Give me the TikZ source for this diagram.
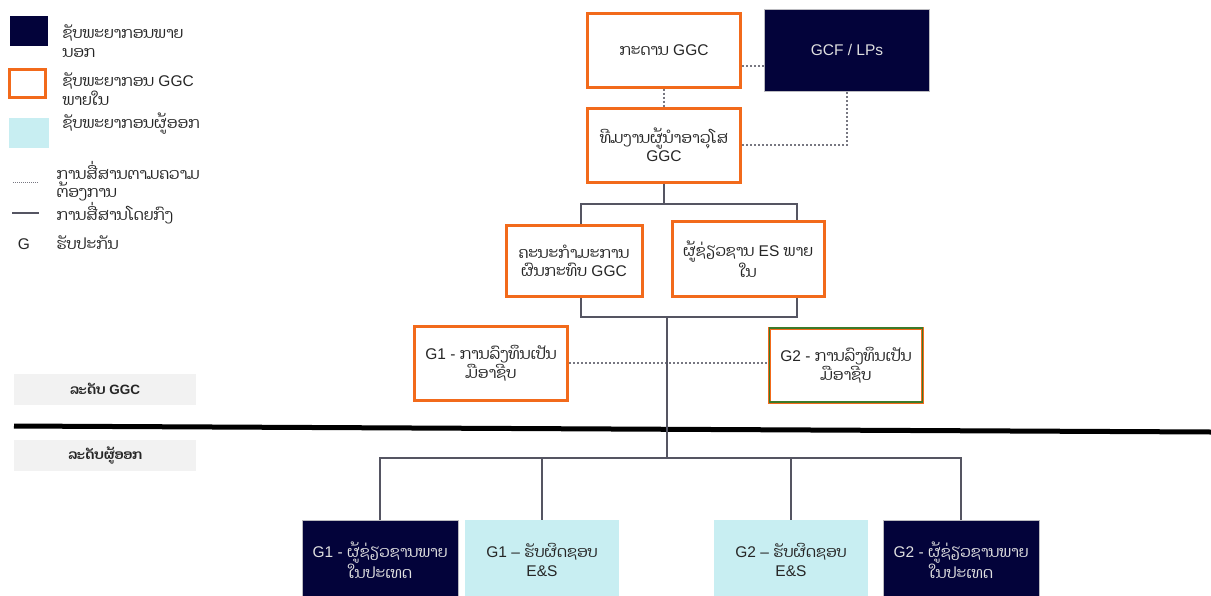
\documentclass[tikz,border=0pt]{standalone}
\usepackage{fontspec}
\setmainfont{Liberation Sans}
\newfontfamily\laofont[Script=Lao]{Dhyana}
\newcommand{\lo}[1]{{\laofont #1}}
\usetikzlibrary{positioning}
\definecolor{ggcorange}{HTML}{F26A1B}
\definecolor{extnavy}{HTML}{03033A}
\definecolor{issuercyan}{HTML}{C8EEF2}
\definecolor{linegray}{HTML}{555562}
\definecolor{levelgray}{HTML}{F2F2F2}
\definecolor{fundgreen}{HTML}{3C7A2A}
\tikzset{every node/.style={font=\fontsize{15.5}{18.5}\selectfont, align=center, text=black!85},
ggc/.style={draw=ggcorange, line width=3pt, fill=white, minimum width=153pt, minimum height=74pt, inner sep=0pt},
ext/.style={fill=extnavy, draw=linegray!40, line width=.6pt, text=white!88!black, minimum width=156pt, minimum height=80pt, inner sep=0pt},
iss/.style={fill=issuercyan, minimum width=154pt, minimum height=80pt, inner sep=0pt},
level/.style={fill=levelgray, minimum width=182pt, minimum height=31pt, font=\fontsize{13.5}{15}\selectfont\bfseries},
link/.style={draw=linegray, line width=2.2pt},
loose/.style={draw=linegray!80, line width=2pt, dash pattern=on 2pt off 2pt},
legtext/.style={anchor=west, align=left}
}

\begin{document}
\begin{tikzpicture}[x=1pt, y=-1pt, node distance=100pt, on grid]
    \useasboundingbox (0,0) rectangle (1211,595);
    \clip (0,0) rectangle (1211,595);

    % legend
    \node[fill=extnavy, minimum width=38pt, minimum height=30pt, inner sep=0pt] (keyext) at (29,31) {};
    \node[legtext] (keyexttxt) at (59,41) {\lo{ຊັບພະຍາກອນພາຍ}\\\lo{ນອກ}};
    \node[draw=ggcorange, line width=3pt, minimum width=36pt, minimum height=28pt, inner sep=0pt] (keyggc) at (27,83) {};
    \node[legtext] (keyggctxt) at (59,89) {\lo{ຊັບພະຍາກອນ} GGC\\\lo{ພາຍໃນ}};
    \node[fill=issuercyan, minimum width=40pt, minimum height=30pt, inner sep=0pt] (keyiss) at (29,133) {};
    \node[legtext] (keyisstxt) at (59,124) {\lo{ຊັບພະຍາກອນຜູ້ອອກ}};
    \coordinate (keyloosea) at (13,182);
    \coordinate (keylooseb) at (38,182);
    \draw[loose, line width=.8pt, dash pattern=on 1pt off 1pt] (keyloosea) -- (keylooseb);
    \node[legtext] (keyloosetxt) at (53,181) {\lo{ການສື່ສານຕາມຄວາມ}\\\lo{ຕ້ອງການ}};
    \coordinate (keylinka) at (12,213);
    \coordinate (keylinkb) at (39,213);
    \draw[link] (keylinka) -- (keylinkb);
    \node[legtext] (keylinktxt) at (53,213) {\lo{ການສື່ສານໂດຍກົງ}};
    \node (keyg) at (24,244) {G};
    \node[legtext] (keygtxt) at (53,243) {\lo{ຮັບປະກັນ}};

    % GGC level
    \node[ggc]                                            (board)  at (664,50)  {\lo{ກະດານ} GGC};
    \node[ext, minimum width=165pt, minimum height=82pt]  (gcf)    [right=183pt of board] {GCF / LPs};
    \node[ggc]                                            (slt)    [below=95pt of board]  {\lo{ທີມງານຜູ້ນຳອາວຸໂສ}\\GGC};
    \node[ggc, minimum width=136pt, minimum height=71pt]  (cttee)  at (574,261) {\lo{ຄະນະກຳມະການ}\\\lo{ຜົນກະທົບ} GGC};
    \node[ggc, minimum width=152pt, minimum height=75pt]  (esin)   at (748,259) {\lo{ຜູ້ຊ່ຽວຊານ} ES \lo{ພາຍ}\\\lo{ໃນ}};
    \node[ggc]                                            (fund1)  at (491,363) {G1 - \lo{ການລົງທຶນເປັນ}\\\lo{ມືອາຊີບ}};
    \node[ggc]                                            (fund2)  at (846,365) {G2 - \lo{ການລົງທຶນເປັນ}\\\lo{ມືອາຊີບ}};
    \draw[fundgreen, line width=1.5pt] ([shift={(1.5,1.5)}]fund2.north west) rectangle ([shift={(-1.5,-1.5)}]fund2.south east);

    % issuer level
    \node[ext] (dom1) at (380,560) {G1 - \lo{ຜູ້ຊ່ຽວຊານພາຍ}\\\lo{ໃນປະເທດ}};
    \node[iss] (ies1) at (542,560) {G1 -- \lo{ຮັບຜິດຊອບ}\\E\&S};
    \node[iss] (ies2) at (791,560) {G2 -- \lo{ຮັບຜິດຊອບ}\\E\&S};
    \node[ext] (dom2) at (961,560) {G2 - \lo{ຜູ້ຊ່ຽວຊານພາຍ}\\\lo{ໃນປະເທດ}};

    \node[level] (lvlggc) at (105,389) {\lo{ລະດັບ} GGC};
    \node[level] (lvliss) at (105,455) {\lo{ລະດັບຜູ້ອອກ}};
    \coordinate (divl) at (14,426);
    \coordinate (divr) at (1211,432);
    \draw[line width=5pt] (divl) -- (divr);

    % connectors
    \coordinate (boardtap) at ([yshift=-16pt]board.east);
    \coordinate (ctopl) at (581,204);
    \coordinate (ctopr) at (797,204);
    \coordinate (cbotl) at (581,317);
    \coordinate (cbotr) at (797,317);
    \coordinate (trunk) at (667,317);
    \coordinate (hub)   at (667,458);

    \draw[loose] (boardtap) -- (boardtap -| gcf.west);
    \draw[loose] (board.south) -- (slt.north);
    \draw[loose] (slt.east) -| (gcf.south);
    \draw[loose] (fund1.east) -- (fund1.east -| fund2.west);

    \draw[link] (slt.south) -- (slt.south |- ctopl);
    \draw[link] (ctopl |- cttee.north) -- (ctopl) -- (ctopr) -- (ctopr |- esin.north);
    \draw[link] (cbotl |- cttee.south) -- (cbotl) -- (cbotr) -- (cbotr |- esin.south);
    \draw[link] (trunk) -- (hub);
    \draw[link] (dom1.north) |- (hub) -| (dom2.north);
    \draw[link] (ies1.north) -- (ies1.north |- hub);
    \draw[link] (ies2.north) -- (ies2.north |- hub);
\end{tikzpicture}
\end{document}
